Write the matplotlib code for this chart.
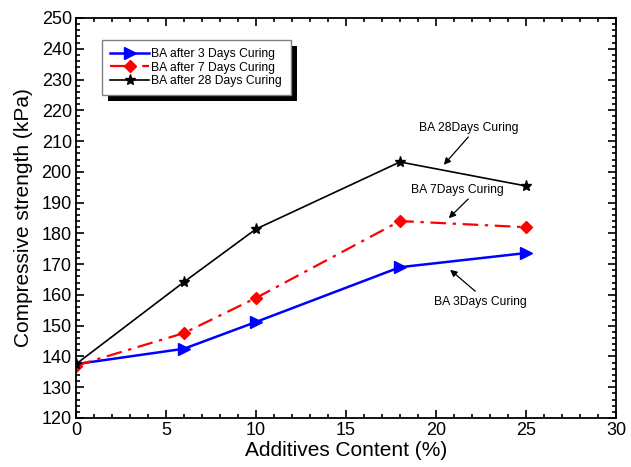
import matplotlib
matplotlib.use("Agg")
import matplotlib.pyplot as plt
from matplotlib.ticker import MultipleLocator
from matplotlib.patches import Rectangle

plt.rcParams['font.family'] = ['Liberation Sans', 'DejaVu Sans']

content = [0, 6, 10, 18, 25]
days3 = [137.5, 142.5, 151.2, 169.0, 173.6]
days7 = [137.0, 147.6, 159.0, 184.0, 182.0]
days28 = [137.5, 164.2, 181.4, 203.2, 195.4]

fig = plt.figure(figsize=(6.31, 4.67), dpi=100)
ax = fig.add_axes([0.1204, 0.105, 0.8558, 0.8565])

ax.plot(content, days3, color='blue', lw=1.8, marker='>', ms=9, label='BA after 3 Days Curing')
ax.plot(content, days7, color='red', lw=1.6, ls=(0, (7, 3, 1.5, 3)), marker='D', ms=6.5, label='BA after 7 Days Curing')
ax.plot(content, days28, color='black', lw=1.2, marker='*', ms=8, label='BA after 28 Days Curing')

ax.set_xlim(0, 30)
ax.set_ylim(120, 250)
ax.xaxis.set_major_locator(MultipleLocator(5))
ax.xaxis.set_minor_locator(MultipleLocator(1))
ax.yaxis.set_major_locator(MultipleLocator(10))
ax.yaxis.set_minor_locator(MultipleLocator(2))
ax.tick_params(which='both', direction='in', top=True, right=True, width=1.2)
ax.tick_params(which='major', length=6, labelsize=13, pad=3)
ax.tick_params(which='minor', length=3)
for s in ax.spines.values():
    s.set_linewidth(1.3)

ax.set_xlabel('Additives Content (%)', fontsize=15, labelpad=1)
ax.set_ylabel('Compressive strength (kPa)', fontsize=15, labelpad=6)

leg = ax.legend(loc='upper left', bbox_to_anchor=(0.048, 0.945), fontsize=8.7,
                frameon=True, fancybox=False, edgecolor='gray', framealpha=1,
                handlelength=3.2, borderpad=0.7, labelspacing=0.1, handletextpad=0.2,
                borderaxespad=0)
leg.get_frame().set_linewidth(1.0)

fig.canvas.draw()
bb = leg.get_window_extent()
off = 6
shadow = Rectangle((bb.x0 + off, bb.y0 - off), bb.width, bb.height,
                   transform=None, facecolor='black', edgecolor='none', zorder=9)
fig.patches.append(shadow)
leg.remove()
leg.set_zorder(20)
fig.legends.append(leg)
leg.set_figure(fig)

arrow = dict(arrowstyle='-|>', color='black', lw=0.9, mutation_scale=10)
ax.text(21.83, 214.2, 'BA 28Days Curing', fontsize=8.7, ha='center', va='center')
ax.annotate('', xy=(20.33, 201.6), xytext=(21.9, 212.0), arrowprops=arrow)
ax.text(21.17, 194.1, 'BA 7Days Curing', fontsize=8.7, ha='center', va='center')
ax.annotate('', xy=(20.6, 184.3), xytext=(21.9, 191.8), arrowprops=arrow)
ax.text(22.44, 157.7, 'BA 3Days Curing', fontsize=8.7, ha='center', va='center')
ax.annotate('', xy=(20.67, 168.75), xytext=(22.3, 160.6), arrowprops=arrow)

fig.savefig('out.png', dpi=100)
